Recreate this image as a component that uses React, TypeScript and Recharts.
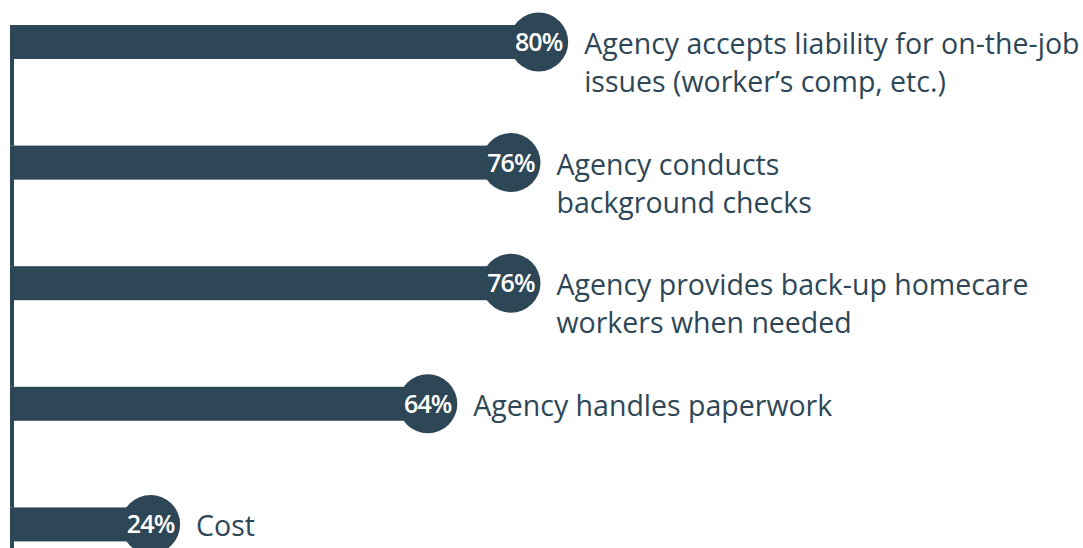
import { Bar, BarChart, XAxis, YAxis } from 'recharts'

const categories = ['liability', 'background', 'backup', 'paperwork', 'cost']
const values = [80, 76, 76, 64, 24]
const labelLines = [
  ['Agency accepts liability for on-the-job', 'issues (worker’s comp, etc.)'],
  ['Agency conducts', 'background checks'],
  ['Agency provides back-up homecare', 'workers when needed'],
  ['Agency handles paperwork'],
  ['Cost'],
]

const data = categories.map((name, i) => ({ name, value: values[i], lines: labelLines[i] }))

const INK = '#2e4757'
const R = 29.5
const FONT = '"Open Sans", sans-serif'
const CHART_H = 603
const BAND = CHART_H / categories.length

function PinBar(props: any) {
  const { x, y, width, height, payload } = props
  const cx = x + width
  const cy = y + height / 2
  const lines: string[] = payload.lines
  return (
    <g>
      {/* spine: runs from this bar's top down to the next one */}
      <rect x={x - 2} y={y} width={4} height={BAND} fill={INK} />
      <rect x={x} y={y} width={width} height={height} fill={INK} />
      <circle cx={cx} cy={cy} r={R} fill={INK} />
      <text
        x={cx}
        y={cy}
        dy="0.36em"
        textAnchor="middle"
        fill="#fff"
        fontFamily={FONT}
        fontWeight={600}
        fontSize={25}
        letterSpacing={-0.9}
      >
        {payload.value}%
      </text>
      <text x={cx + R + 16} y={cy + 12} fill={INK} fontFamily={FONT} fontSize={28.5}>
        {lines.map((l, i) => (
          <tspan key={i} x={cx + R + 16} dy={i === 0 ? 0 : 38}>
            {l}
          </tspan>
        ))}
      </text>
    </g>
  )
}

export default function App() {
  return (
    <div style={{ position: 'fixed', left: 0, top: 0, width: 1083, height: 548, overflow: 'hidden', background: '#fff' }}>
      <div style={{ position: 'absolute', left: 0, top: -18 }}>
        <BarChart
          width={1083}
          height={CHART_H}
          data={data}
          layout="vertical"
          margin={{ top: 0, right: 378, bottom: 0, left: 12 }}
        >
          <XAxis type="number" domain={[4, 104]} hide />
          <YAxis type="category" dataKey="name" hide />
          <Bar dataKey="value" barSize={34} shape={<PinBar />} isAnimationActive={false} />
        </BarChart>
      </div>
    </div>
  )
}
